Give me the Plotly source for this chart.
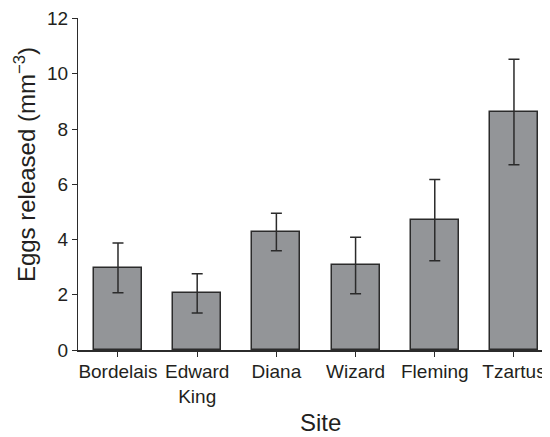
import plotly.graph_objects as go

sites = ["Bordelais", "Edward<br>King", "Diana", "Wizard", "Fleming", "Tzartus"]
eggs_mean = [2.97, 2.05, 4.27, 3.06, 4.70, 8.62]
eggs_err = [0.90, 0.71, 0.68, 1.02, 1.47, 1.91]
y_ticks = [0, 2, 4, 6, 8, 10, 12]

# page body has an 8px default margin, so the figure is drawn offset by 8px
W, H = 542, 429
ml, mr, mt, mb = 70, 0, 8, 87
FONT = "Liberation Sans, Arial, Helvetica, sans-serif"
TXT = "#231f20"

xs = list(range(len(sites)))

fig = go.Figure()
fig.add_trace(go.Bar(
    x=xs, y=eggs_mean, width=0.606,
    marker=dict(color="#939598", line=dict(color="#2b2b2b", width=1.5)),
    error_y=dict(type="data", array=eggs_err, visible=True,
                 color="#2b2b2b", thickness=1.5, width=5.5),
    showlegend=False,
))

fig.update_layout(
    width=W, height=H,
    margin=dict(l=ml, r=mr, t=mt, b=mb, pad=0),
    paper_bgcolor="white", plot_bgcolor="white",
    font=dict(family=FONT, size=19, color=TXT),
    bargap=0,
    xaxis=dict(
        range=[-0.505, 5.455], tickmode="array", tickvals=xs, ticktext=sites,
        showline=True, linecolor="#2b2b2b", linewidth=2,
        ticks="outside", ticklen=5, tickwidth=1, tickcolor="#2b2b2b",
        showgrid=False, zeroline=False, fixedrange=True,
        ticklabelstandoff=-2,
        tickfont=dict(size=19, color=TXT),
    ),
    yaxis=dict(
        range=[0, 12.02], tickmode="array", tickvals=y_ticks,
        showline=True, linecolor="#2b2b2b", linewidth=1,
        ticks="outside", ticklen=5, tickwidth=1, tickcolor="#2b2b2b",
        showgrid=False, zeroline=False, ticklabeloverflow="allow",
        tickfont=dict(size=19, color=TXT),
    ),
    annotations=[
        dict(text="Site", xref="paper", yref="paper",
             x=(312 - ml) / (W - ml - mr), y=-(415 - (H - mb)) / (H - mt - mb),
             xanchor="center", yanchor="middle", showarrow=False,
             font=dict(size=24, color=TXT, family=FONT)),
        dict(text="Eggs released (mm<sup>−3</sup>)", xref="paper", yref="paper",
             x=-(ml - 17) / (W - ml - mr), y=((H - mb) - 156) / (H - mt - mb),
             xanchor="center", yanchor="middle", textangle=-90, showarrow=False,
             font=dict(size=24, color=TXT, family=FONT)),
    ],
)

fig.write_html("out.html")
